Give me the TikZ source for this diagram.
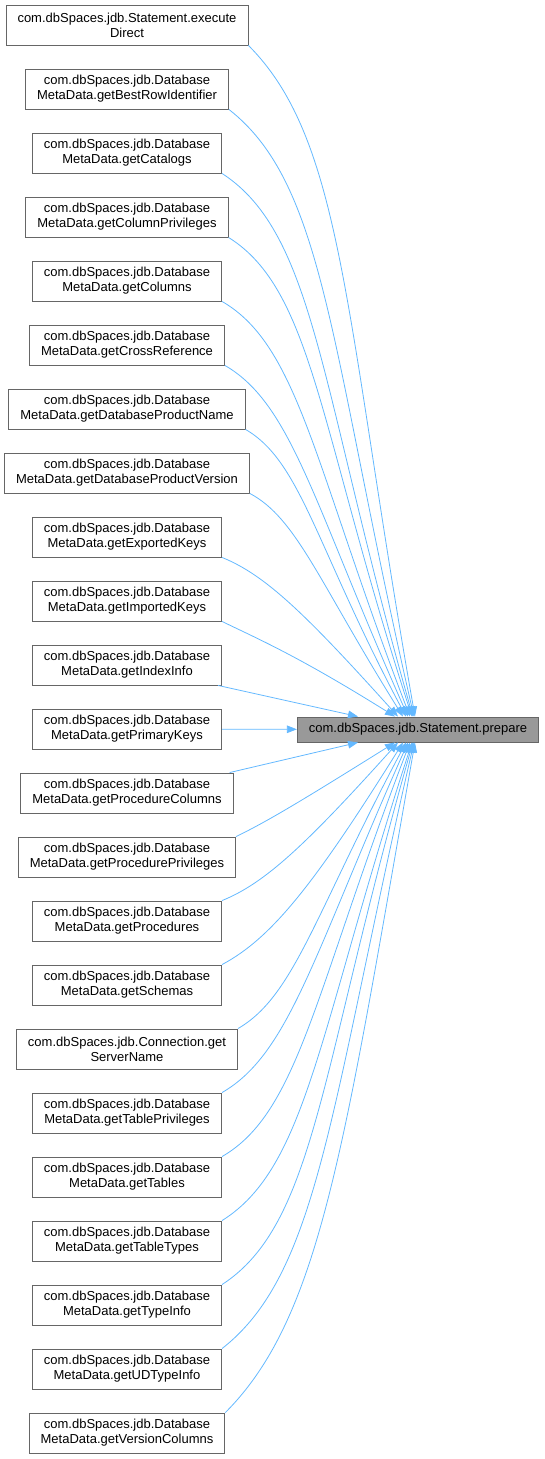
\documentclass[tikz,border=0pt]{standalone}
\usepackage{fontspec}
\setmainfont{Liberation Sans}
\usetikzlibrary{arrows.meta}

\definecolor{callblue}{HTML}{63B8FF}
\definecolor{boxgray}{HTML}{666666}
\definecolor{curgray}{HTML}{999999}

\begin{document}
\begin{tikzpicture}[x=1pt,y=-1pt,
    >={Triangle[length=10pt,width=7.5pt]},
    fnbox/.style={draw=boxgray,fill=white,line width=0.9pt,align=center,
                  inner xsep=11.5pt,inner ysep=0pt,minimum height=40pt,
                  font=\fontsize{13}{15}\selectfont},
    curbox/.style={fnbox,fill=curgray,minimum height=25pt},
    call/.style={->,color=callblue,line width=0.8pt,
                 out looseness=0.5,in looseness=1.5}]
\useasboundingbox (0,0) rectangle (544,1459);

% callers, one column
\foreach \fa/\fb [count=\i from 0] in {
    Statement.execute/Direct,
    Database/MetaData.getBestRowIdentifier,
    Database/MetaData.getCatalogs,
    Database/MetaData.getColumnPrivileges,
    Database/MetaData.getColumns,
    Database/MetaData.getCrossReference,
    Database/MetaData.getDatabaseProductName,
    Database/MetaData.getDatabaseProductVersion,
    Database/MetaData.getExportedKeys,
    Database/MetaData.getImportedKeys,
    Database/MetaData.getIndexInfo,
    Database/MetaData.getPrimaryKeys,
    Database/MetaData.getProcedureColumns,
    Database/MetaData.getProcedurePrivileges,
    Database/MetaData.getProcedures,
    Database/MetaData.getSchemas,
    Connection.get/ServerName,
    Database/MetaData.getTablePrivileges,
    Database/MetaData.getTables,
    Database/MetaData.getTableTypes,
    Database/MetaData.getTypeInfo,
    Database/MetaData.getUDTypeInfo,
    Database/MetaData.getVersionColumns}
  \node[fnbox] (b\i) at (127,25+64*\i) {com.dbSpaces.jdb.\fa\\\fb};

% the called function
\node[curbox] (tgt) at (418,729.5) {com.dbSpaces.jdb.Statement.prepare};

% curved calls, mirrored above and below
\foreach \i/\o/\n/\d in {0/-45/100/-3, 1/-38/103/-4, 2/-33/106/-5,
    3/-32/108/-6, 4/-30/111/-8, 5/-30/114/-10, 6/-30/118/-12,
    7/-28/122/-15, 8/-22/132/-20, 9/-26/148/-23} {
  \pgfmathtruncatemacro\j{22-\i}
  \pgfmathsetmacro\ob{0-(\o)}
  \pgfmathsetmacro\nb{0-(\n)}
  \draw[call] (b\i.south east) to[out=\o,in=\n] ([xshift=\d pt]tgt.north);
  \draw[call] (b\j.north east) to[out=\ob,in=\nb] ([xshift=\d pt]tgt.south);
}
\draw[call] ([xshift=-4pt]b10.south east) -- ([xshift=-60pt]tgt.north);
\draw[call] (b11) -- (tgt);
\draw[call] ([xshift=-4pt]b12.north east) -- ([xshift=-60pt]tgt.south);
\end{tikzpicture}
\end{document}
